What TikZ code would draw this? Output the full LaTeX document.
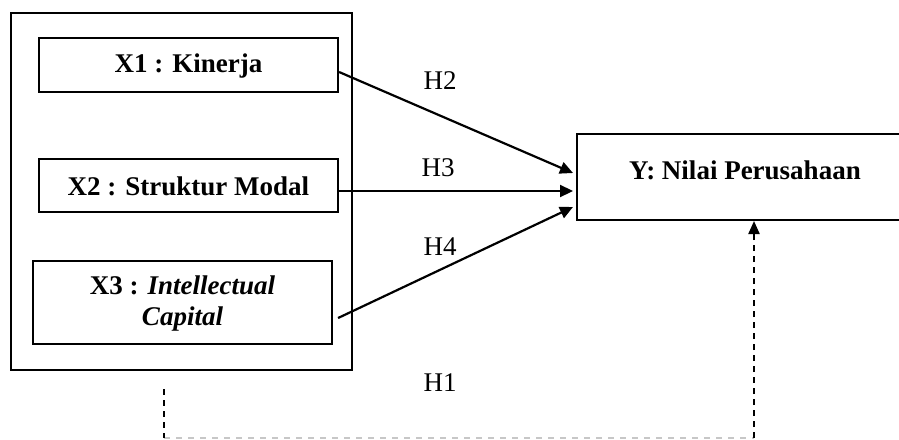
\documentclass[tikz,border=0pt]{standalone}
\usepackage{fontspec}
\setmainfont{Liberation Serif}
\usetikzlibrary{arrows.meta,calc}
\begin{document}
\begin{tikzpicture}[x=1pt,y=-1pt,
  box/.style={draw,line width=2.2pt,rectangle,inner sep=0pt},
  vartext/.style={font=\fontsize{27}{31}\selectfont\bfseries,align=center},
  hlabel/.style={font=\fontsize{27}{31}\selectfont},
  arr/.style={line width=2.2pt,-{Triangle[length=13pt,width=12pt]}},
  dashblack/.style={line width=2.2pt,dash pattern=on 6pt off 5pt},
  dashgray/.style={line width=2pt,draw=black!22,dash pattern=on 6pt off 6pt}]
\useasboundingbox (0,0) rectangle (899,439);
\clip (0,0) rectangle (899,439);
% outer group box
\node[box,minimum width=341pt,minimum height=357pt] (outer) at (181.5,191.5) {};
% variable boxes
\node[box,minimum width=299pt,minimum height=54pt] (x1) at (188.5,65) {};
\node[vartext] at ($(x1.center)+(0,1)$) {X1 : Kinerja};
\node[box,minimum width=299pt,minimum height=53pt] (x2) at (188.5,185.5) {};
\node[vartext] at ($(x2.center)+(0,1)$) {X2 : Struktur Modal};
\node[box,minimum width=299pt,minimum height=83pt] (x3) at (182.5,302.5) {};
\node[vartext] at ($(x3.center)+(0,1)$) {X3 : \textit{Intellectual}\\\textit{Capital}};
% dependent box (right side runs off the page)
\node[box,minimum width=340pt,minimum height=86pt,anchor=north west] (y) at (576,133) {};
\node[vartext] (ytext) at (745,170) {Y: Nilai Perusahaan};
% arrows
\coordinate (t2) at (573,173);
\coordinate (t3) at (573,191);
\coordinate (t4) at (573,207);
\draw[arr] ($(x1.east)+(0,7)$) -- (t2);
\draw[arr] ($(x2.east)+(0,5.5)$) -- (t3);
\draw[arr] ($(x3.east)+(5,15.5)$) -- (t4);
\node[hlabel] (h2) at (440,81) {H2};
\node[hlabel] (h3) at (438,168) {H3};
\node[hlabel] (h4) at (440,247) {H4};
\node[hlabel] (h1) at (440,383) {H1};
% dashed path H1
\coordinate (d1) at (164,389);
\coordinate (d2) at (164,438);
\coordinate (d3) at (754,438);
\coordinate (d4) at (754,221);
\draw[dashgray] (d2) -- (d3);
\draw[dashblack] (d1) -- (d2);
\draw[dashblack] (d3) -- ($(d4)+(0,12)$);
\draw[line width=2.2pt,-{Triangle[length=13pt,width=11pt]}] ($(d4)+(0,14)$) -- (d4);
\end{tikzpicture}
\end{document}
